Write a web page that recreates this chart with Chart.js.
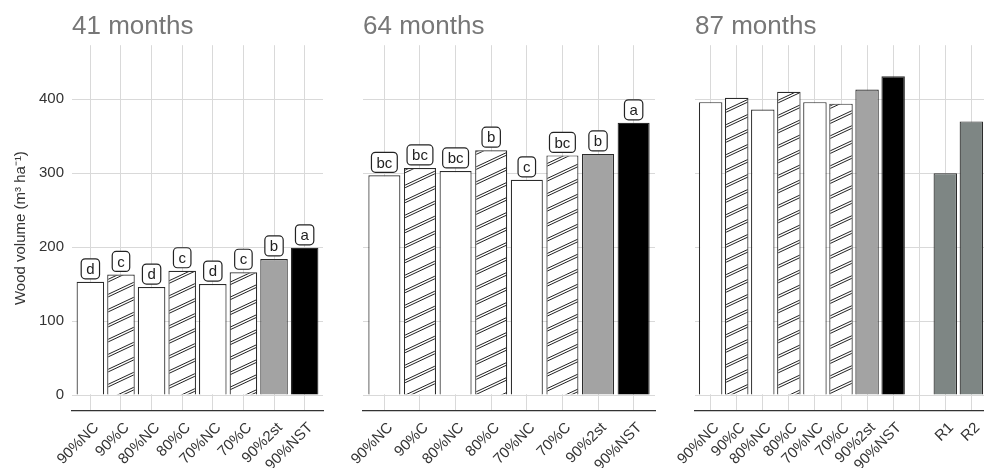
<!DOCTYPE html>
<html>
<head>
<meta charset="utf-8">
<script src="https://cdn.jsdelivr.net/npm/chart.js@4.4.1/dist/chart.umd.min.js"></script>
<style>
  html, body { margin: 0; padding: 0; background: #fff; overflow: hidden; }
  #wrap { position: relative; width: 984px; height: 468px; overflow: hidden; }
  #wrap canvas { position: absolute; top: 0; left: 0; }
</style>
</head>
<body>
<div id="wrap">
  <canvas id="c41" width="984" height="468"></canvas>
  <canvas id="c64" width="984" height="468"></canvas>
  <canvas id="c87" width="1000" height="468"></canvas>
</div>
<script>
// data (wood volume, m3/ha)
const treatments = ['90%NC', '90%C', '80%NC', '80%C', '70%NC', '70%C', '90%2st', '90%NST'];
const vol41 = [153, 163, 146, 168, 150, 166, 184, 199];
const vol64 = [297, 307, 303, 331, 291, 324, 326, 368];
const vol87 = [396, 402, 386, 410, 396, 394, 413, 431];
const groups41 = ['d', 'c', 'd', 'c', 'd', 'c', 'b', 'a'];
const groups64 = ['bc', 'bc', 'bc', 'b', 'c', 'bc', 'b', 'a'];
const refLabels = ['R1', 'R2'];
const ref87 = [300, 370];
const yTicks = [0, 100, 200, 300, 400];

const FONT = '"Liberation Sans", Arial, sans-serif';

function makeHatch() {
    const w = 32, h = 15;
    const c = document.createElement('canvas');
    c.width = w; c.height = h;
    const g = c.getContext('2d');
    g.fillStyle = '#fff';
    g.fillRect(0, 0, w, h);
    g.strokeStyle = '#222';
    g.lineWidth = 1;
    for (const dy of [-h, 0, h]) {
        for (const off of [0, 2.6]) {
            g.beginPath();
            g.moveTo(0, h + dy + off);
            g.lineTo(w, dy + off);
            g.stroke();
        }
    }
    return g.createPattern(c, 'repeat');
}
const hatch = makeHatch();
// fill for each treatment, same order as treatments
const treatFills = ['#fff', hatch, '#fff', hatch, '#fff', hatch, '#a3a3a3', '#000'];
const refFill = '#7e8684';

// boxed letters above the bars
const letterBoxes = {
    id: 'letterBoxes',
    afterDatasetsDraw(chart, args, opts) {
        const letters = opts.letters;
        if (!letters) return;
        const ctx = chart.ctx;
        const bars = chart.getDatasetMeta(0).data;
        ctx.save();
        ctx.font = '15px ' + FONT;
        ctx.textAlign = 'center';
        ctx.textBaseline = 'middle';
        letters.forEach((txt, i) => {
            const bar = bars[i];
            const w = ctx.measureText(txt).width + 10, h = 20;
            const x = bar.x - w / 2, y = bar.y - 3 - h;
            ctx.beginPath();
            ctx.roundRect(x, y, w, h, 4);
            ctx.fillStyle = '#fff';
            ctx.fill();
            ctx.lineWidth = 1.2;
            ctx.strokeStyle = '#222';
            ctx.stroke();
            ctx.fillStyle = '#222';
            ctx.fillText(txt, bar.x, y + h / 2 + 1);
        });
        ctx.restore();
    }
};

function panel(id, title, labels, points, fills, letters, left, right, showY) {
    const n = labels.length;
    return new Chart(document.getElementById(id), {
        type: 'bar',
        data: {
            datasets: [{
                data: points,
                backgroundColor: fills,
                borderColor: '#2b2b2b',
                borderWidth: 1.2,
                barPercentage: 0.9,
                categoryPercentage: 1
            }]
        },
        plugins: [letterBoxes],
        options: {
            responsive: false,
            animation: false,
            layout: { padding: { left: 0, right: right, top: 0, bottom: 0 } },
            scales: {
                x: {
                    type: 'linear',
                    min: -0.6,
                    max: n - 1 + 0.6,
                    offset: false,
                    afterBuildTicks: axis => { axis.ticks = labels.map((l, i) => ({ value: i })); },
                    afterFit: axis => { axis.height = 57; },
                    grid: { color: '#d9d9d9', drawTicks: false, offset: false },
                    border: { display: true, color: '#333', width: 1.2 },
                    ticks: {
                        autoSkip: false,
                        minRotation: 45,
                        maxRotation: 45,
                        padding: 8,
                        labelOffset: 6,
                        color: '#333',
                        font: { family: FONT, size: 15 },
                        callback: v => labels[v]
                    }
                },
                y: {
                    min: -21.6,
                    max: 473,
                    afterBuildTicks: axis => { axis.ticks = yTicks.map(v => ({ value: v })); },
                    afterFit: axis => { axis.width = left; },
                    grid: { color: '#d9d9d9', drawTicks: false },
                    border: { display: false },
                    ticks: {
                        display: showY,
                        padding: 8,
                        color: '#333',
                        font: { family: FONT, size: 15 }
                    },
                    title: {
                        display: showY,
                        text: 'Wood volume (m³ ha⁻¹)',
                        color: '#333',
                        padding: { top: 12, bottom: 0 },
                        font: { family: FONT, size: 15 }
                    }
                }
            },
            plugins: {
                legend: { display: false },
                tooltip: { enabled: false },
                title: {
                    display: true,
                    text: title,
                    align: 'start',
                    fullSize: false,
                    color: '#777',
                    padding: { top: 11, bottom: 3 },
                    font: { family: FONT, size: 26, weight: 'normal' }
                },
                letterBoxes: { letters: letters }
            }
        }
    });
}

const pts41 = vol41.map((v, i) => ({ x: i, y: v }));
const pts64 = vol64.map((v, i) => ({ x: i, y: v }));
// 87 months: treatments, an empty slot, then the two references
const labels87 = treatments.concat([''], refLabels);
const pts87 = vol87.map((v, i) => ({ x: i, y: v }))
    .concat(ref87.map((v, i) => ({ x: treatments.length + 1 + i, y: v })));
const fills87 = treatFills.concat(refLabels.map(() => refFill));

panel('c41', '41 months', treatments, pts41, treatFills, groups41, 72, 984 - 323, true);
panel('c64', '64 months', treatments, pts64, treatFills, groups64, 363, 984 - 655, false);
panel('c87', '87 months', labels87, pts87, fills87, null, 695, 1000 - 987, false);
</script>
</body>
</html>
